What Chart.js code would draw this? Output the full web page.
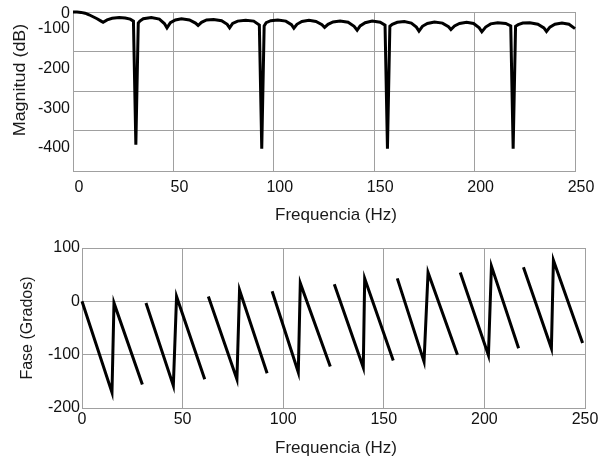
<!DOCTYPE html>
<html>
<head>
<meta charset="utf-8">
<script src="https://cdn.jsdelivr.net/npm/chart.js@4.4.0/dist/chart.umd.min.js"></script>
<style>
body { margin: 0; background: #fff; }
#wrap { position: relative; width: 601px; height: 459px; font-family: 'Liberation Sans', Arial, sans-serif; color: #1a1a1a; }
canvas { position: absolute; left: 0; }
.t { position: absolute; white-space: nowrap; transform: translate(-50%, -50%); font-size: 17px; }
.v { font-size: 16px; }
</style>
</head>
<body>
<div id="wrap">
  <canvas id="magChart" width="601" height="230" style="top:0"></canvas>
  <canvas id="phaseChart" width="601" height="229" style="top:230px"></canvas>
  <div class="t" style="left:336px;top:215px">Frequencia (Hz)</div>
  <div class="t" style="left:336px;top:448px">Frequencia (Hz)</div>
  <div class="t v" style="left:20px;top:80px;transform:translate(-50%,-50%) rotate(-90deg) scaleX(1.12)">Magnitud (dB)</div>
  <div class="t v" style="left:27px;top:328px;transform:translate(-50%,-50%) rotate(-90deg)">Fase (Grados)</div>
</div>
<script>
// magnitude curve
const magFreq = [0, 2, 4, 6, 8, 10, 12, 14, 15,
  17, 19.5, 23, 26, 28.5, 30.1, 31.3, 32.5,
  33.3, 35, 39, 43, 45.5, 46.8,
  48.5, 51, 54, 58, 61, 62.3,
  64, 66.5, 70, 74, 76.8, 78,
  79.5, 82, 86, 90, 92.8, 94, 95.2,
  96.2, 98.5, 102, 106, 108.8, 110,
  111.5, 114, 117.5, 121, 124, 125.3,
  127, 129.5, 133, 137, 140, 141.5,
  143, 145.5, 149, 153, 155.4, 156.6, 157.8,
  159, 161.5, 165, 168.5, 171, 172.3,
  174, 176.5, 180, 184, 187, 188.2,
  190, 192.5, 196, 199.5, 202.3, 203.6,
  205.5, 208, 211.5, 215.5, 218, 219.2, 220.4,
  221.7, 224, 227.5, 231.5, 234.5, 235.8,
  237.5, 240, 243.5, 247, 250];
const magDb = [-57, -57, -58, -60, -64, -69, -74, -80, -83,
  -77, -73, -71, -72, -75, -80, -392, -85,
  -80, -74, -71, -75, -86, -97,
  -84, -77, -74, -77, -85, -91,
  -83, -77, -76, -79, -88, -97,
  -86, -80, -78, -80, -90, -402, -92,
  -84, -79, -77, -80, -89, -98,
  -88, -81, -78, -81, -89, -96,
  -88, -82, -80, -83, -93, -103,
  -92, -84, -80, -83, -90, -402, -93,
  -88, -83, -81, -85, -95, -105,
  -93, -86, -82, -85, -94, -101,
  -92, -86, -83, -86, -97, -107,
  -95, -87, -84, -86, -92, -402, -93,
  -89, -85, -84, -88, -97, -106,
  -95, -88, -85, -88, -99];
const magTickVals = [-60, -100, -200, -300, -400];
const magTickLabels = ['0', '-100', '-200', '-300', '-400'];
const magGridVals = [-57, -157, -257, -357, -458];

// phase sawtooth, null = break in the line
const phaseFreq = [0, 14.9, 15.9, 30, 31,
  31.8, 45.4, 47, 61, 62,
  62.8, 77, 78.3, 92, 93,
  94.5, 107.5, 108.5, 123.4, 124,
  125.4, 139.8, 140.5, 154.7, 155.5,
  156.7, 170, 172, 186.6, 187.3,
  188, 202, 203.5, 217, 218,
  219.4, 233.3, 234.3, 248.8];
const phaseDeg = [0, -171, -3, -156, null,
  -3, -158, 9, -146, null,
  9, -146, 21, -135, null,
  19, -133, 34, -122, null,
  32, -124, 43, -111, null,
  43, -113, 54, -100, null,
  54, -101, 66, -88, null,
  64, -88, 77, -78];
const phaseTicks = [-200, -100, 0, 100];
const freqTicks = [0, 50, 100, 150, 200, 250];

const gridColor = '#a0a0a0';
const tickFont = { family: "'Liberation Sans', Arial, sans-serif", size: 16 };

function fixBox(w, h) {
  return function (scale) {
    if (w !== null) scale.width = w;
    if (h !== null) scale.height = h;
    scale.paddingLeft = scale.paddingRight = scale.paddingTop = scale.paddingBottom = 0;
  };
}
function setTicks(vals) {
  return function (scale) { scale.ticks = vals.map(v => ({ value: v })); };
}

new Chart(document.getElementById('magChart'), {
  type: 'line',
  data: {
    datasets: [{
      data: magFreq.map((f, i) => ({ x: f, y: magDb[i] })),
      borderColor: '#000',
      borderWidth: 3,
      pointRadius: 0,
      tension: 0,
      clip: 5
    }]
  },
  options: {
    responsive: false,
    animation: false,
    layout: { padding: { top: 12, right: 26, left: 0, bottom: 0 } },
    plugins: { legend: { display: false }, tooltip: { enabled: false } },
    scales: {
      x: {
        type: 'linear', min: 0, max: 250,
        afterBuildTicks: setTicks(freqTicks),
        afterFit: fixBox(null, 59),
        grid: { color: gridColor, drawTicks: false },
        border: { color: gridColor },
        ticks: { font: tickFont, color: '#111', padding: 7, labelOffset: 6, maxRotation: 0 }
      },
      y: {
        type: 'linear', position: 'left', weight: 0, min: -458, max: -57,
        afterBuildTicks: setTicks(magGridVals),
        afterFit: fixBox(0, null),
        grid: { color: gridColor, drawTicks: false },
        border: { color: gridColor },
        ticks: { display: false }
      },
      yLab: {
        type: 'linear', position: 'left', weight: 1, min: -458, max: -57,
        afterBuildTicks: setTicks(magTickVals),
        afterFit: fixBox(73, null),
        grid: { display: false, drawTicks: false },
        border: { display: false },
        ticks: {
          font: tickFont, color: '#111', padding: 3, autoSkip: false,
          callback: (v, i) => magTickLabels[i]
        }
      }
    }
  }
});

new Chart(document.getElementById('phaseChart'), {
  type: 'line',
  data: {
    datasets: [{
      data: phaseFreq.map((f, i) => ({ x: f, y: phaseDeg[i] })),
      borderColor: '#000',
      borderWidth: 3,
      pointRadius: 0,
      tension: 0,
      spanGaps: false,
      clip: 5
    }]
  },
  options: {
    responsive: false,
    animation: false,
    layout: { padding: { top: 18, right: 16, left: 0, bottom: 0 } },
    plugins: { legend: { display: false }, tooltip: { enabled: false } },
    scales: {
      x: {
        type: 'linear', min: 0, max: 250,
        afterBuildTicks: setTicks(freqTicks),
        afterFit: fixBox(null, 51),
        grid: { color: gridColor, drawTicks: false },
        border: { color: gridColor },
        ticks: { font: tickFont, color: '#111', padding: 2, maxRotation: 0 }
      },
      y: {
        type: 'linear', min: -200, max: 100,
        afterBuildTicks: setTicks(phaseTicks),
        afterFit: fixBox(82, null),
        grid: { color: gridColor, drawTicks: false },
        border: { color: gridColor },
        ticks: { font: tickFont, color: '#111', padding: 2, autoSkip: false }
      }
    }
  }
});
</script>
</body>
</html>
